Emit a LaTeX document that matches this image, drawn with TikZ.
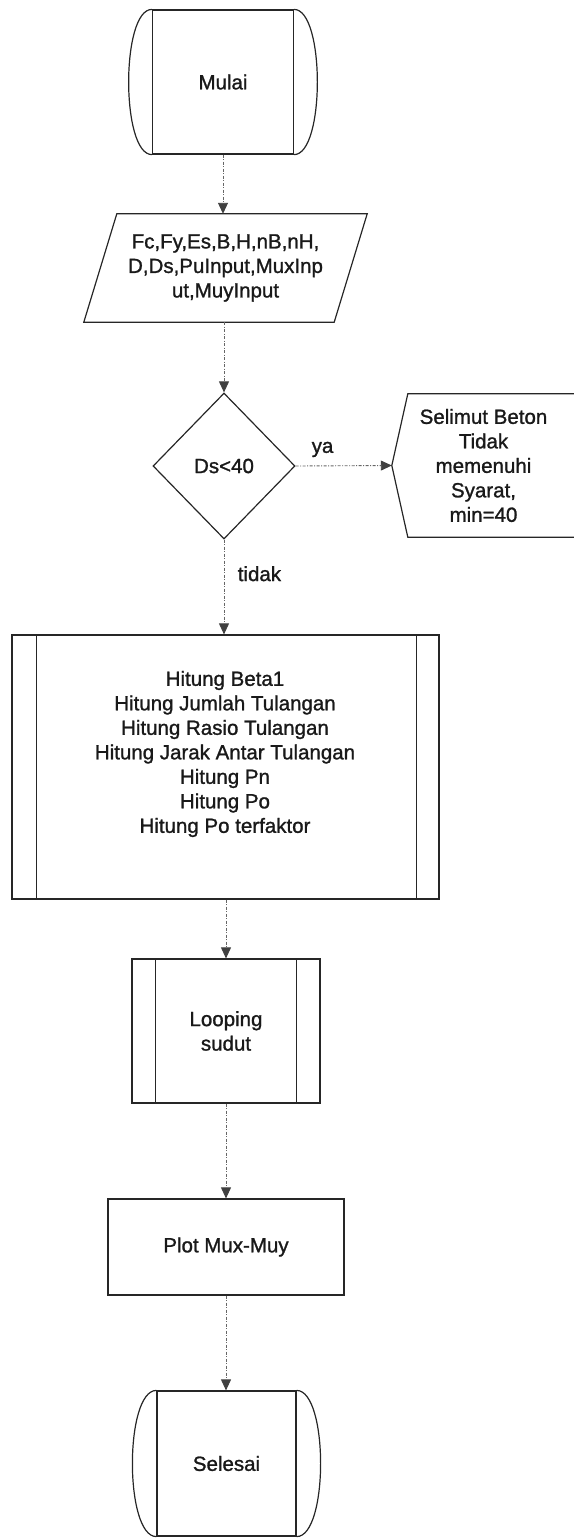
\documentclass[tikz,border=0pt]{standalone}
\usepackage{fontspec}
\setmainfont{Liberation Sans}
\newfontface\scanfont{Liberation Sans}[FakeBold=1.2]
\usetikzlibrary{arrows.meta, shapes.geometric, calc}

\begin{document}
\begin{tikzpicture}[x=1pt, y=-1pt,
    >={Triangle[width=10pt,length=11pt,color=black!75]},
    txt/.style={font=\scanfont\fontsize{20.5}{24.5}\selectfont, align=center, text=black!90},
    box/.style={draw=black!85, line width=1.2pt, txt, inner sep=0pt},
    flow/.style={->, draw=black!60, line width=0.9pt, dash pattern=on 3pt off 1.5pt on 1pt off 1.5pt}]
  \useasboundingbox (0,0) rectangle (573,1539);

  % Mulai
  \node[box, minimum width=141pt, minimum height=144pt] (start) at (223,82) {Mulai};
  \draw[box] (start.north west) .. controls +(-31,0) and +(-31,0) .. (start.south west);
  \draw[box] (start.north east) .. controls +(31,0) and +(31,0) .. (start.south east);

  % input data
  \node[txt, inner sep=0pt, minimum width=283pt, minimum height=108pt] (input) at (225.5,268)
    {Fc,Fy,Es,B,H,nB,nH,\\D,Ds,PuInput,MuxInp\\ut,MuyInput};
  \draw[box] ($(input.north west)+(33,0)$) -- (input.north east)
    -- ($(input.south east)+(-33,0)$) -- (input.south west) -- cycle;

  % cek selimut
  \node[box, diamond, minimum width=142pt, minimum height=146pt] (cek) at (224,466) {Ds<40};
  \node[txt, inner sep=0pt, minimum width=183pt, minimum height=143pt] (warn) at (483.5,465.5)
    {Selimut Beton\\Tidak\\memenuhi\\Syarat,\\min=40};
  \draw[box] ($(warn.north east)+(5,0)$) -- ($(warn.north west)+(16,0)$) -- (warn.west)
    -- ($(warn.south west)+(16,0)$) -- ($(warn.south east)+(5,0)$);

  % hitungan
  \node[box, minimum width=427pt, minimum height=264pt] (hitung) at (225.5,767) {};
  \draw[box] ($(hitung.north west)+(25,0)$) -- ($(hitung.south west)+(25,0)$);
  \draw[box] ($(hitung.north east)+(-23,0)$) -- ($(hitung.south east)+(-23,0)$);
  \node[txt] (hitungtxt) at (225,754) {Hitung Beta1\\Hitung Jumlah Tulangan\\Hitung Rasio Tulangan\\
    Hitung Jarak Antar Tulangan\\Hitung Pn\\Hitung Po\\Hitung Po terfaktor};

  % looping
  \node[box, minimum width=188pt, minimum height=144pt] (loop) at (226,1031) {Looping\\sudut};
  \draw[box] ($(loop.north west)+(24,0)$) -- ($(loop.south west)+(24,0)$);
  \draw[box] ($(loop.north east)+(-24,0)$) -- ($(loop.south east)+(-24,0)$);

  \node[box, minimum width=236pt, minimum height=96pt] (plot) at (226,1247) {Plot Mux-Muy};

  % Selesai
  \node[box, minimum width=139pt, minimum height=145pt] (stop) at (226.5,1463.5) {Selesai};
  \draw[box] (stop.north west) .. controls +(-32,0) and +(-32,0) .. (stop.south west);
  \draw[box] (stop.north east) .. controls +(32,0) and +(32,0) .. (stop.south east);

  % arrows
  \draw[flow] (start.south) -- (start.south |- input.north);
  \draw[flow] (input.south -| cek.north) -- (cek.north);
  \draw[flow] (cek.east) -- (warn.west) node[txt, pos=0.28, above=5pt] {ya};
  \draw[flow] (cek.south) -- (cek.south |- hitung.north) node[txt, pos=0.36, right=10pt] {tidak};
  \draw[flow] (loop.north |- hitung.south) -- (loop.north);
  \draw[flow] (loop.south) -- (loop.south |- plot.north);
  \draw[flow] (plot.south) -- (plot.south |- stop.north);
\end{tikzpicture}
\end{document}
